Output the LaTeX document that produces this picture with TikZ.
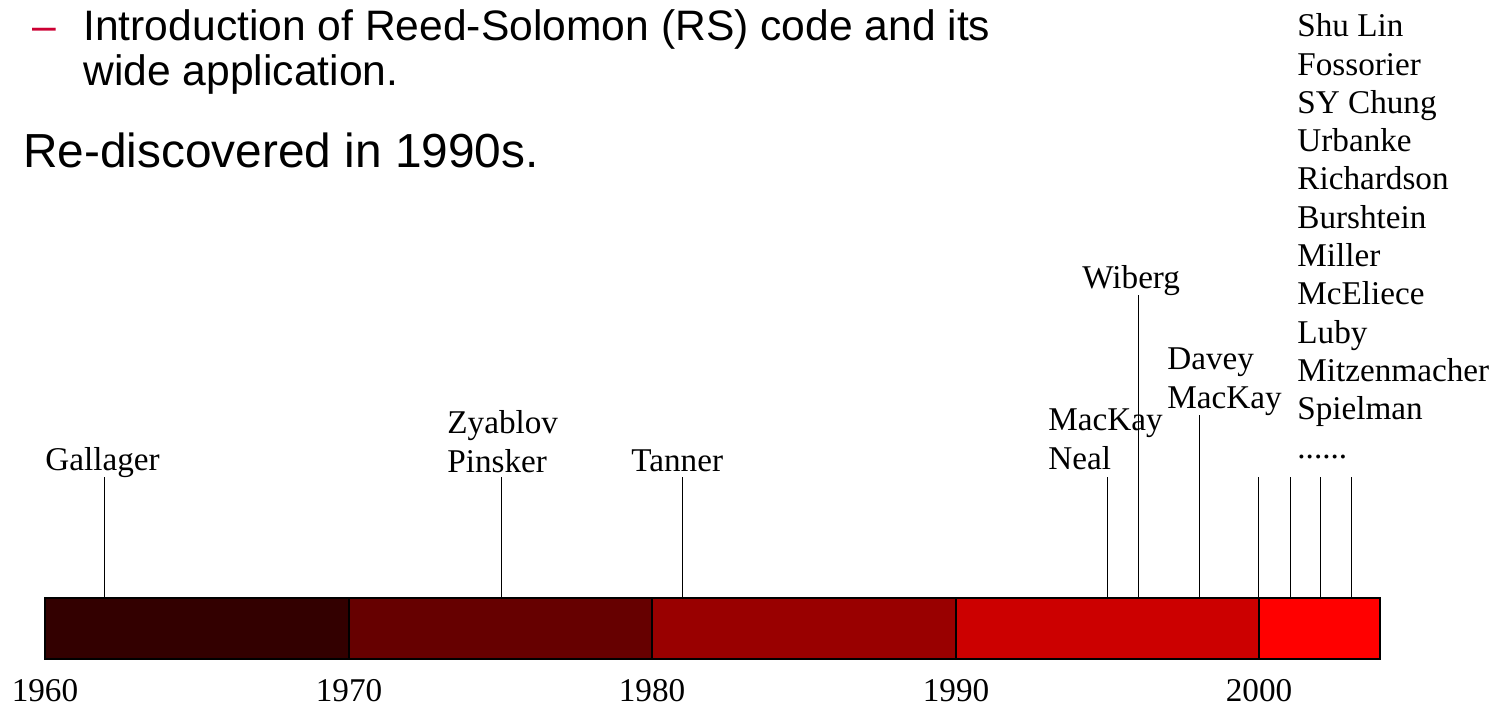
\documentclass[tikz,border=0pt]{standalone}
\usepackage{fontspec}
\setmainfont{Liberation Serif}
\newfontfamily\arialfont{Liberation Sans}

\begin{document}
\begin{tikzpicture}[x=0.5pt,y=-0.5pt,
    person/.style={anchor=base west,inner sep=0pt,align=left,
        font=\fontsize{16.6}{19.15}\selectfont},
    yearlabel/.style={anchor=base,inner sep=0pt,
        font=\fontsize{16.6}{19.15}\selectfont},
    tickline/.style={draw=black,line width=0.5pt}]

    % Colors for the decades
    \definecolor{dec60}{RGB}{51,0,0}
    \definecolor{dec70}{RGB}{102,0,0}
    \definecolor{dec80}{RGB}{153,0,0}
    \definecolor{dec90}{RGB}{204,0,0}
    \definecolor{dec00}{RGB}{255,0,0}
    \definecolor{bulletred}{RGB}{204,0,51}

    \useasboundingbox (0,0) rectangle (1490,706);

    % Heading text
    \node[anchor=base west,inner sep=0pt,text=bulletred,
        font=\arialfont\fontsize{21.3}{22}\selectfont] (dash) at (32,41) {–};
    \node[anchor=base west,inner sep=0pt,
        font=\arialfont\fontsize{21.3}{22}\selectfont] (intro) at (83,41)
        {Introduction of Reed-Solomon (RS) code and its};
    \node[anchor=base west,inner sep=0pt,
        font=\arialfont\fontsize{21.3}{22}\selectfont] (wide) at (83,86)
        {wide application.};
    \node[anchor=base west,inner sep=0pt,
        font=\arialfont\fontsize{23.9}{25}\selectfont] (redisc) at (23,168)
        {Re-discovered in 1990s.};

    % Decade bar
    \fill[dec60] (45,598) rectangle (349,659);
    \fill[dec70] (349,598) rectangle (652,659);
    \fill[dec80] (652,598) rectangle (956,659);
    \fill[dec90] (956,598) rectangle (1259,659);
    \fill[dec00] (1259,598) rectangle (1380,659);
    \draw[line width=0.6pt] (349,598) -- (349,659)
        (652,598) -- (652,659)
        (956,598) -- (956,659)
        (1259,598) -- (1259,659);
    \draw[line width=1.1pt] (45,598) rectangle (1380,659);
    \coordinate (bartop) at (0,598);

    % Years
    \node[yearlabel] (y1960) at (45,701) {1960};
    \node[yearlabel] (y1970) at (349,701) {1970};
    \node[yearlabel] (y1980) at (652,701) {1980};
    \node[yearlabel] (y1990) at (956,701) {1990};
    \node[yearlabel] (y2000) at (1259,701) {2000};

    % Ticks
    \coordinate (tgal) at (104,477);
    \coordinate (tzya) at (501,477);
    \coordinate (ttan) at (682,477);
    \coordinate (tmac) at (1107,477);
    \coordinate (twib) at (1138,295);
    \coordinate (tdav) at (1199,415);
    \coordinate (tnew) at (1258,477);
    \coordinate (tnewb) at (1290,477);
    \coordinate (tnewc) at (1320,477);
    \coordinate (tnewd) at (1351,477);
    \draw[tickline] (tgal) -- (tgal |- bartop);
    \draw[tickline] (tzya) -- (tzya |- bartop);
    \draw[tickline] (ttan) -- (ttan |- bartop);
    \draw[tickline] (tmac) -- (tmac |- bartop);
    \draw[tickline] (twib) -- (twib |- bartop);
    \draw[tickline] (tdav) -- (tdav |- bartop);
    \draw[tickline] (tnew) -- (tnew |- bartop);
    \draw[tickline] (tnewb) -- (tnewb |- bartop);
    \draw[tickline] (tnewc) -- (tnewc |- bartop);
    \draw[tickline] (tnewd) -- (tnewd |- bartop);

    % Names (base is the last line)
    \node[person] (gallager) at (45,470) {Gallager};
    \node[person] (zyablov) at (447,472) {Zyablov\\Pinsker};
    \node[person] (tanner) at (631,471) {Tanner};
    \node[person] (mackay) at (1048,469) {MacKay\\Neal};
    \node[person] (wiberg) at (1082,288) {Wiberg};
    \node[person] (davey) at (1167,408) {Davey\\MacKay};
    \node[person] (others) at (1297,458) {Shu Lin\\Fossorier\\SY Chung\\Urbanke\\Richardson\\Burshtein\\Miller\\McEliece\\Luby\\Mitzenmacher\\Spielman\\......};

\end{tikzpicture}
\end{document}
